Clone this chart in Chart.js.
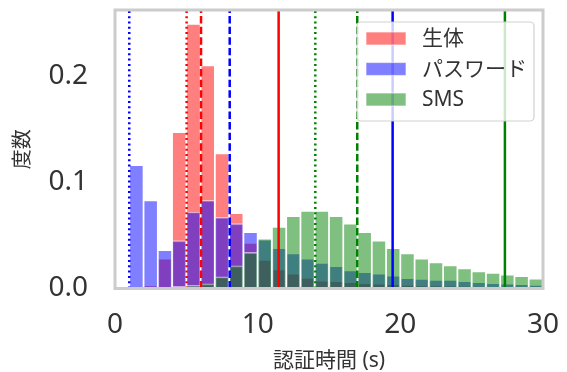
<!DOCTYPE html>
<html>
<head>
<meta charset="utf-8">
<script src="https://cdn.jsdelivr.net/npm/chart.js@4.4.1/dist/chart.umd.min.js"></script>
<style>
  html, body { margin: 0; padding: 0; background: #ffffff; }
  #wrap { width: 567px; height: 372px; }
</style>
</head>
<body>
<div id="wrap"><canvas id="myChart" width="567" height="372"></canvas></div>
<script>
// histogram of authentication time, 1 s bins

var bins = [0, 1, 2, 3, 4, 5, 6, 7, 8, 9, 10, 11, 12, 13, 14, 15, 16, 17, 18, 19, 20, 21, 22, 23, 24, 25, 26, 27, 28, 29];

var seriesNames = ['生体', 'パスワード', 'SMS'];

var bioVals = [0, 0, 0.003, 0.028, 0.147, 0.249, 0.210, 0.127, 0.071, 0.043, 0.027, 0.018, 0.014, 0.010, 0.0075,
               0.007, 0.006, 0.005, 0.0045, 0.004, 0.0035, 0.003, 0.003, 0.0028, 0.0025, 0.0022, 0.002, 0.002, 0.0018, 0.0016];

var pwVals = [0, 0.116, 0.083, 0.036, 0.045, 0.072, 0.083, 0.067, 0.061, 0.053, 0.046, 0.038, 0.033, 0.028, 0.024,
              0.021, 0.017, 0.0155, 0.014, 0.012, 0.0097, 0.009, 0.008, 0.008, 0.007, 0.006, 0.005, 0.0045, 0.004, 0.0035];

var smsVals = [0, 0, 0, 0, 0.002, 0.003, 0.0045, 0.011, 0.0214, 0.034, 0.047, 0.058, 0.068, 0.073, 0.073,
               0.068, 0.061, 0.053, 0.045, 0.038, 0.033, 0.028, 0.0245, 0.0217, 0.019, 0.016, 0.0148, 0.013, 0.0116, 0.0094];

// vertical markers per series: dotted, dashed, solid
var bioLines = [5.02, 6.03, 11.47];
var pwLines = [1.0, 8.04, 19.46];
var smsLines = [14.04, 16.98, 27.33];

var xTicks = [0, 10, 20, 30];
var yTicks = [0.0, 0.1, 0.2];
var yMax = 0.262;

var barFill = ['rgba(255, 0, 0, 0.5)', 'rgba(0, 0, 255, 0.5)', 'rgba(0, 128, 0, 0.5)'];
var lineColor = ['#ff0000', '#0000ff', '#008000'];
var dashes = [[2, 3.3], [7.4, 3.2], []];

var fontFam = '"Noto Sans", "Noto Sans CJK JP", sans-serif';

function barData(vals)
{
    return bins.map(function (b, i) { return { x: b + 0.5, y: vals[i] }; });
}

function vline(x, k, s)
{
    return {
        type: 'line',
        data: [{ x: x, y: 0 }, { x: x, y: yMax }],
        borderColor: lineColor[k],
        borderWidth: 2.5,
        borderDash: dashes[s],
        borderCapStyle: 'butt',
        pointRadius: 0,
        fill: false,
        order: 0
    };
}

function buildDatasets()
{
    var allVals = [bioVals, pwVals, smsVals];
    var allLines = [bioLines, pwLines, smsLines];
    var ds = [];
    // matplotlib draws red, then blue, then green on top
    for (var k = 0; k < 3; k++)
    {
        ds.push({
            type: 'bar',
            label: seriesNames[k],
            data: barData(allVals[k]),
            backgroundColor: barFill[k],
            borderColor: 'rgba(255, 255, 255, 0.55)',
            borderWidth: 1.2,
            borderSkipped: 'start',
            barPercentage: 1.0,
            categoryPercentage: 1.0,
            grouped: false,
            order: 3 - k
        });
    }
    for (var k = 0; k < 3; k++)
    {
        for (var s = 0; s < 3; s++)
        {
            ds.push(vline(allLines[k][s], k, s));
        }
    }
    return ds;
}

// frame + legend inside plot (like matplotlib)
var framePlugin = {
    id: 'framePlugin',
    afterDraw: function (chart)
    {
        var ctx = chart.ctx;
        var a = chart.chartArea;
        ctx.save();
        ctx.strokeStyle = '#cccccc';
        ctx.lineWidth = 3;
        ctx.strokeRect(a.left, a.top, a.right - a.left, a.bottom - a.top);

        // legend box
        var bw = 177, bh = 99;
        var bx = a.right - 9 - bw;
        var by = a.top + 12;
        ctx.fillStyle = 'rgba(255, 255, 255, 0.8)';
        ctx.strokeStyle = 'rgba(204, 204, 204, 0.9)';
        ctx.lineWidth = 1.2;
        ctx.beginPath();
        ctx.roundRect(bx, by, bw, bh, 4);
        ctx.fill();
        ctx.stroke();

        ctx.font = '21px ' + fontFam;
        ctx.textBaseline = 'middle';
        ctx.textAlign = 'left';
        for (var i = 0; i < seriesNames.length; i++)
        {
            var cy = by + 16.5 + i * 30.5;
            ctx.fillStyle = barFill[i];
            ctx.fillRect(bx + 9, cy - 6.5, 40, 13);
            ctx.strokeStyle = 'rgba(255, 255, 255, 0.55)';
            ctx.lineWidth = 1.2;
            ctx.strokeRect(bx + 9, cy - 6.5, 40, 13);
            ctx.fillStyle = '#333333';
            ctx.fillText(seriesNames[i], bx + 65, cy + 1);
        }
        ctx.restore();
    }
};

function buildChart()
{
    var ctxL = document.getElementById('myChart').getContext('2d');
    var myChart = new Chart(ctxL, {
        type: 'bar',
        data: { datasets: buildDatasets() },
        options: {
            responsive: false,
            animation: false,
            devicePixelRatio: 1,
            layout: { padding: { left: 0, right: 24, top: 10, bottom: 0 } },
            plugins: {
                legend: { display: false },
                tooltip: { enabled: false }
            },
            scales: {
                x: {
                    type: 'linear',
                    min: 0,
                    max: 30,
                    offset: false,
                    grid: { display: false, drawTicks: false },
                    border: { display: false },
                    afterBuildTicks: function (scale) { scale.ticks = xTicks.map(function (v) { return { value: v }; }); },
                    afterFit: function (scale)
                    {
                        scale.height = 83.5;
                        scale.paddingLeft = 0;
                        scale.paddingRight = 0;
                    },
                    ticks: {
                        padding: 20,
                        maxRotation: 0,
                        color: '#333333',
                        font: { family: fontFam, size: 28 },
                        callback: function (v) { return String(v); }
                    },
                    title: {
                        display: true,
                        text: '認証時間 (s)',
                        color: '#333333',
                        font: { family: fontFam, size: 21, lineHeight: 1.05 },
                        padding: { top: 0, bottom: 0 }
                    }
                },
                y: {
                    min: 0,
                    max: yMax,
                    grid: { display: false, drawTicks: false },
                    border: { display: false },
                    afterBuildTicks: function (scale) { scale.ticks = yTicks.map(function (v) { return { value: v }; }); },
                    afterFit: function (scale)
                    {
                        scale.width = 115;
                        scale.paddingTop = 0;
                        scale.paddingBottom = 0;
                    },
                    ticks: {
                        padding: 27,
                        color: '#333333',
                        font: { family: fontFam, size: 28 },
                        callback: function (v) { return v.toFixed(1); }
                    },
                    title: {
                        display: true,
                        text: '度数',
                        color: '#333333',
                        font: { family: fontFam, size: 20 },
                        padding: { top: 11, bottom: 0 }
                    }
                }
            }
        },
        plugins: [framePlugin]
    });
}

buildChart();
</script>
</body>
</html>
